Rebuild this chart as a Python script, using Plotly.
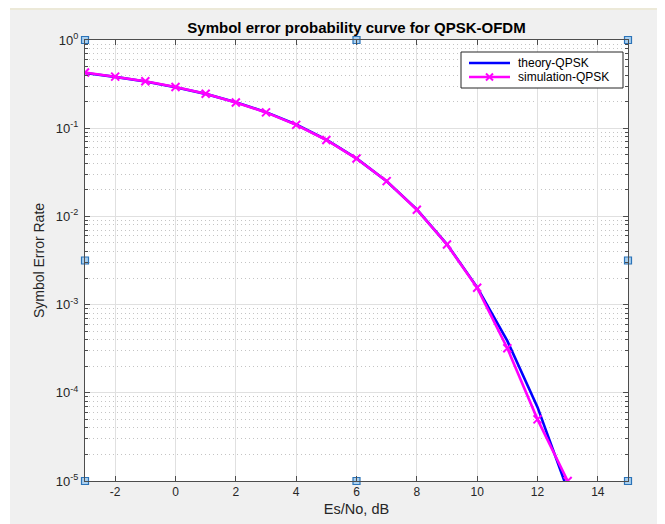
import plotly.graph_objects as go

# ---- data ----
es_no_db = [-3, -2, -1, 0, 1, 2, 3, 4, 5, 6, 7, 8, 9, 10, 11, 12, 13]
ser_theory = [0.422, 0.382, 0.338, 0.292, 0.245, 0.197, 0.152, 0.110, 0.074,
              0.0455, 0.0250, 0.0120, 0.00483, 0.00157, 0.000388, 0.0000687, 0.0000079]
ser_sim = [0.428, 0.384, 0.340, 0.293, 0.246, 0.196, 0.151, 0.109, 0.0735,
           0.0453, 0.0251, 0.0119, 0.00480, 0.00155, 0.000320, 0.0000500, 0.0000100]

series_names = ["theory-QPSK", "simulation-QPSK"]
series_colors = ["#0000ff", "#ff00ff"]

x_ticks = [-2, 0, 2, 4, 6, 8, 10, 12, 14]
x_ticktext = ["-2", "0", "2", "4", "6", "8", "10", "12", "14"]
y_exps = [-5, -4, -3, -2, -1, 0]
y_ticktext = ["10<sup>%d</sup>" % e for e in y_exps]

x_range = [-3, 15]
y_range_log = [-5, 0]

# ---- figure (page body has an 8px margin, so figure starts at (8,8)) ----
W, H = 650, 516
L, R, T, B = 77, 30, 32, 43
pw, ph = W - L - R, H - T - B

FONT = "Liberation Sans, Arial, Helvetica, sans-serif"
AX = "#4d4d4d"
TXT = "#262626"

fig = go.Figure()

fig.add_trace(go.Scatter(
    x=es_no_db, y=ser_theory, mode="lines", name=series_names[0],
    line=dict(color=series_colors[0], width=2.6)))
fig.add_trace(go.Scatter(
    x=es_no_db, y=ser_sim, mode="lines+markers", name=series_names[1],
    line=dict(color=series_colors[1], width=2.6),
    marker=dict(symbol="x-thin", size=8, line=dict(color=series_colors[1], width=2))))

# MATLAB selection handles on the axes box
xmid = (x_range[0] + x_range[1]) / 2
ymid = 10 ** ((y_range_log[0] + y_range_log[1]) / 2)
hx = [x_range[0], xmid, x_range[1], x_range[0], x_range[1], x_range[0], xmid, x_range[1]]
hy = [10 ** y_range_log[1]] * 3 + [ymid] * 2 + [10 ** y_range_log[0]] * 3
fig.add_trace(go.Scatter(
    x=hx, y=hy, mode="markers", showlegend=False, cliponaxis=False, hoverinfo="skip",
    marker=dict(symbol="square", size=7, color="#a9d0f0",
                line=dict(color="#2b73b8", width=1.2))))

minor_vals = [m * 10 ** e for e in range(-5, 0) for m in range(2, 10)]

fig.update_layout(
    width=W, height=H,
    margin=dict(l=L, r=R, t=T, b=B, pad=0, autoexpand=False),
    paper_bgcolor="#f0f0f0",
    plot_bgcolor="#ffffff",
    font=dict(family=FONT, size=12, color=TXT),
    title=dict(text="<b>Symbol error probability curve for QPSK-OFDM</b>",
               x=(L + pw / 2) / W, xanchor="center", y=1 - 20 / H, yanchor="middle",
               font=dict(size=15, color="#000000")),
    showlegend=False,
    xaxis=dict(range=x_range, tickmode="array", tickvals=x_ticks, ticktext=x_ticktext,
               ticks="inside", ticklen=5, tickcolor=AX, showline=True, linecolor=AX,
               linewidth=1, mirror="ticks", showgrid=True, gridcolor="#e0e0e0",
               gridwidth=1, zeroline=False, tickfont=dict(size=12, color=TXT),
               automargin=False,
               title=dict(text="Es/No, dB", font=dict(size=14.5, color=TXT), standoff=5)),
    yaxis=dict(type="log", range=y_range_log, tickmode="array",
               tickvals=[10 ** e for e in y_exps], ticktext=y_ticktext,
               ticks="inside", ticklen=5, tickcolor=AX, showline=True, linecolor=AX,
               linewidth=1, mirror="ticks", showgrid=True, gridcolor="#e0e0e0",
               gridwidth=1, zeroline=False, tickfont=dict(size=13, color=TXT),
               automargin=False, ticklabelstandoff=3,
               minor=dict(tickmode="array", tickvals=minor_vals, ticks="inside",
                          ticklen=3, tickcolor=AX, showgrid=True,
                          gridcolor="#c4c4c4", griddash="1px,3px", gridwidth=1),
               title=dict(text="Symbol Error Rate", font=dict(size=14, color=TXT), standoff=7)),
)

def px_to_paper_x(px):
    return (px - L) / pw

def px_to_paper_y(py):
    return (H - B - py) / ph

def rect_px(x0, y0, x1, y1, fill, line=None):
    fig.add_shape(type="rect", xref="paper", yref="paper",
                  x0=px_to_paper_x(x0), x1=px_to_paper_x(x1),
                  y0=px_to_paper_y(y1), y1=px_to_paper_y(y0),
                  fillcolor=fill, line=line or dict(width=0), layer="above")

def line_px(x0, y0, x1, y1, color, width):
    fig.add_shape(type="line", xref="paper", yref="paper",
                  x0=px_to_paper_x(x0), x1=px_to_paper_x(x1),
                  y0=px_to_paper_y(y0), y1=px_to_paper_y(y1),
                  line=dict(color=color, width=width), layer="above")

# window chrome: thin beige strip at top, white strip at left
rect_px(0, 0, 2, H, "#ffffff")
rect_px(2, 0, W, 2, "#ece9d8")

# legend box (MATLAB style)
lx0, ly0, lx1, ly1 = 453, 44, 615, 80
rect_px(lx0, ly0, lx1, ly1, "#ffffff", dict(color="#262626", width=1))
row_y = [ly0 + 11, ly0 + 25]
for i, (nm, col) in enumerate(zip(series_names, series_colors)):
    yy = row_y[i]
    line_px(lx0 + 8, yy, lx0 + 49, yy, col, 2.6)
    fig.add_annotation(xref="paper", yref="paper", x=px_to_paper_x(lx0 + 55),
                       y=px_to_paper_y(yy), xanchor="left", yanchor="middle",
                       text=nm, showarrow=False,
                       font=dict(family=FONT, size=12, color="#000000"))
# 'x' marker in the simulation legend sample
cx, cy, s = lx0 + 28.5, row_y[1], 3.5
line_px(cx - s, cy - s, cx + s, cy + s, series_colors[1], 2)
line_px(cx - s, cy + s, cx + s, cy - s, series_colors[1], 2)

fig.write_html("out.html")
